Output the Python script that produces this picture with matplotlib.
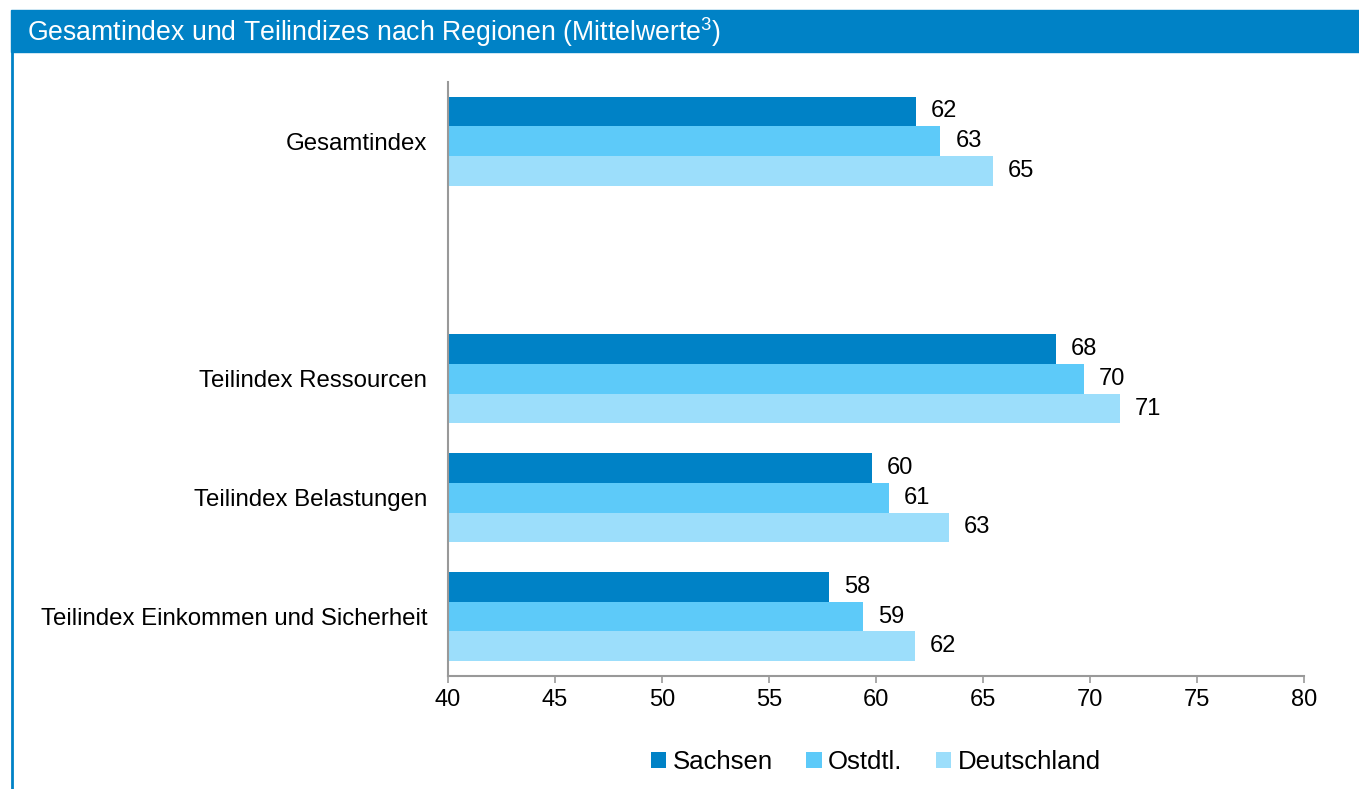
import numpy as np
import matplotlib.pyplot as plt
from matplotlib.patches import Rectangle
from matplotlib.lines import Line2D

plt.rcParams['font.family'] = ['Liberation Sans', 'DejaVu Sans']
plt.rcParams['mathtext.fontset'] = 'custom'
plt.rcParams['mathtext.rm'] = 'Liberation Sans'

# Data
categories = ['Gesamtindex', '', 'Teilindex Ressourcen', 'Teilindex Belastungen',
              'Teilindex Einkommen und Sicherheit']
series = ['Sachsen', 'Ostdtl.', 'Deutschland']
sachsen = [61.85, np.nan, 68.4, 59.8, 57.8]
ostdtl = [63.0, np.nan, 69.7, 60.6, 59.4]
deutschland = [65.45, np.nan, 71.4, 63.4, 61.8]
colors = ['#0082C6', '#5DCAF9', '#9CDEFB']

W, H = 1359, 789
fig = plt.figure(figsize=(W / 100, H / 100), dpi=100)

# title bar and left frame line
fig.patches.append(Rectangle((11 / W, 1 - 52 / H), 1 - 11 / W, 42 / H,
                             transform=fig.transFigure, color='#0082C6', zorder=0))
fig.lines.append(Line2D([12 / W, 12 / W], [0, 1 - 52 / H], transform=fig.transFigure,
                        color='#0082C6', linewidth=2))
fig.text(27 / W, 1 - 32 / H, 'Gesamtindex und Teilindizes nach Regionen (Mittelwerte$^{3}$)',
         color='white', fontsize=19.2, va='center', ha='left')

ax = fig.add_axes([448 / W, 1 - 676 / H, 856 / W, (676 - 81.7) / H])

y = np.arange(len(categories))
h = 0.25
for i, (vals, name) in enumerate(zip([sachsen, ostdtl, deutschland], series)):
    vals = np.array(vals)
    bars = ax.barh(y + (i - 1) * h, vals - 40, left=40, height=h, color=colors[i], label=name)
    labels = ['' if np.isnan(v) else '{:.0f}'.format(v) for v in vals]
    ax.bar_label(bars, labels=labels, padding=11, fontsize=17)

ax.set_xlim(40, 80)
ax.set_ylim(len(categories) - 0.5, -0.5)
ax.set_xticks(np.arange(40, 81, 5))
ax.set_yticks(y)
ax.set_yticklabels(categories)
ax.tick_params(axis='y', length=0, pad=15, labelsize=17.3)
ax.tick_params(axis='x', length=5, width=1.2, color='#999999', pad=4, labelsize=17)
for s in ['top', 'right']:
    ax.spines[s].set_visible(False)
for s in ['left', 'bottom']:
    ax.spines[s].set_color('#999999')
    ax.spines[s].set_linewidth(1.5)

ax.legend(loc='center', bbox_to_anchor=(0.5, (1 - 762 / H - (1 - 676 / H)) / ((676 - 81.7) / H)),
          ncol=3, frameon=False, fontsize=18.5, handlelength=0.6, handleheight=0.6,
          handletextpad=0.25, columnspacing=1.3)

plt.savefig('out.png', dpi=100)
